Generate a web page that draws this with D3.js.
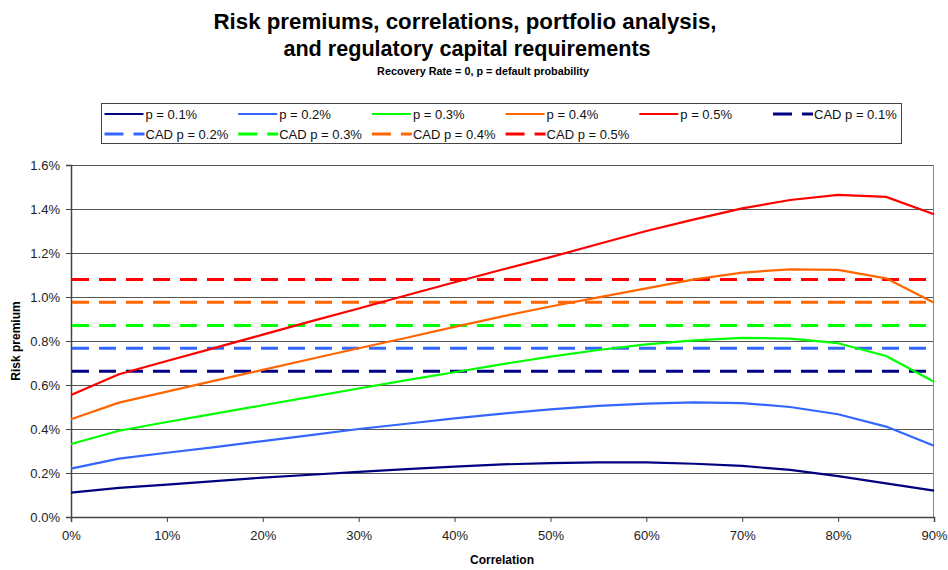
<!DOCTYPE html>
<html>
<head>
<meta charset="utf-8">
<script src="https://cdn.jsdelivr.net/npm/d3@7/dist/d3.min.js"></script>
<style>
  html, body { margin: 0; padding: 0; background: #fff; }
  svg { display: block; font-family: "Liberation Sans", Arial, sans-serif; }
</style>
</head>
<body>
<svg id="chart" width="948" height="570"></svg>
<script>
// ---- Data ----
const correlations = [0, 5, 10, 15, 20, 25, 30, 35, 40, 45, 50, 55, 60, 65, 70, 75, 80, 85, 90];
const p01 = [0.111, 0.132, 0.147, 0.163, 0.179, 0.192, 0.205, 0.218, 0.229, 0.239, 0.245, 0.248, 0.248, 0.242, 0.232, 0.214, 0.186, 0.153, 0.120];
const p02 = [0.220, 0.265, 0.292, 0.318, 0.345, 0.372, 0.400, 0.424, 0.448, 0.470, 0.489, 0.505, 0.515, 0.521, 0.518, 0.500, 0.467, 0.411, 0.324];
const p03 = [0.332, 0.392, 0.432, 0.470, 0.508, 0.546, 0.584, 0.622, 0.658, 0.695, 0.729, 0.759, 0.785, 0.803, 0.814, 0.811, 0.790, 0.732, 0.615];
const p04 = [0.444, 0.520, 0.570, 0.620, 0.669, 0.718, 0.767, 0.815, 0.864, 0.912, 0.957, 0.998, 1.039, 1.080, 1.111, 1.126, 1.123, 1.085, 0.974];
const p05 = [0.555, 0.649, 0.709, 0.769, 0.829, 0.889, 0.948, 1.008, 1.067, 1.125, 1.181, 1.241, 1.300, 1.353, 1.403, 1.441, 1.464, 1.455, 1.376];
const cadValues = [0.662, 0.767, 0.871, 0.976, 1.080];
const seriesNames = ["p = 0.1%", "p = 0.2%", "p = 0.3%", "p = 0.4%", "p = 0.5%"];
const cadNames = ["CAD p = 0.1%", "CAD p = 0.2%", "CAD p = 0.3%", "CAD p = 0.4%", "CAD p = 0.5%"];
const colors = ["#000080", "#3366FF", "#00FF00", "#FF6600", "#FF0000"];
const yTicks = [0, 0.2, 0.4, 0.6, 0.8, 1.0, 1.2, 1.4, 1.6];
const xTicks = [0, 10, 20, 30, 40, 50, 60, 70, 80, 90];

const solidSeries = [p01, p02, p03, p04, p05];

// ---- Layout ----
const svg = d3.select("#chart");
const x = d3.scaleLinear().domain([0, 90]).range([71, 934]);
const y = d3.scaleLinear().domain([0, 1.6]).range([517, 165]);

// Titles
svg.append("text").attr("x", 465).attr("y", 29).attr("text-anchor", "middle")
  .attr("font-size", 22.3).attr("font-weight", "bold").attr("fill", "#000")
  .text("Risk premiums, correlations, portfolio analysis,");
svg.append("text").attr("x", 467).attr("y", 56).attr("text-anchor", "middle")
  .attr("font-size", 21.6).attr("font-weight", "bold").attr("fill", "#000")
  .text("and regulatory capital requirements");
svg.append("text").attr("x", 483).attr("y", 75).attr("text-anchor", "middle")
  .attr("font-size", 10.8).attr("font-weight", "bold").attr("fill", "#000")
  .text("Recovery Rate = 0, p = default probability");

// Gridlines
svg.append("g").selectAll("line").data(yTicks.filter(d => d > 0)).join("line")
  .attr("x1", x(0)).attr("x2", x(90))
  .attr("y1", d => Math.round(y(d)) + 0.5).attr("y2", d => Math.round(y(d)) + 0.5)
  .attr("stroke", "#555").attr("stroke-width", 1);

// Right border
svg.append("line").attr("x1", x(90) - 0.5).attr("x2", x(90) - 0.5)
  .attr("y1", y(1.6)).attr("y2", y(0)).attr("stroke", "#888").attr("stroke-width", 1);

// Axes
const yAxis = d3.axisLeft(y).tickValues(yTicks).tickSize(5).tickPadding(6)
  .tickFormat(d => d.toFixed(1) + "%");
const gy = svg.append("g").attr("transform", `translate(${x(0)},0)`).call(yAxis);
gy.select(".domain").attr("stroke", "#444").attr("stroke-width", 1.5);
gy.selectAll(".tick line").attr("stroke", "#444");
gy.selectAll(".tick text").attr("font-size", 13).attr("fill", "#222")
  .attr("font-family", "Liberation Sans, Arial, sans-serif");

const xAxis = d3.axisBottom(x).tickValues(xTicks).tickSize(5).tickPadding(9)
  .tickFormat(d => d + "%");
const gx = svg.append("g").attr("transform", `translate(0,${y(0)})`).call(xAxis);
gx.select(".domain").attr("stroke", "#444").attr("stroke-width", 1.5);
gx.selectAll(".tick line").attr("stroke", "#444");
gx.selectAll(".tick text").attr("font-size", 13).attr("fill", "#222")
  .attr("font-family", "Liberation Sans, Arial, sans-serif");

// Axis titles
svg.append("text").attr("x", 502).attr("y", 564).attr("text-anchor", "middle")
  .attr("font-size", 12).attr("font-weight", "bold").text("Correlation");
svg.append("text").attr("transform", "translate(20,341) rotate(-90)")
  .attr("text-anchor", "middle").attr("font-size", 12).attr("font-weight", "bold")
  .text("Risk premium");

// CAD dashed lines
svg.append("g").selectAll("line").data(cadValues).join("line")
  .attr("x1", x(0) + 1).attr("x2", x(90))
  .attr("y1", d => y(d)).attr("y2", d => y(d))
  .attr("stroke", (d, i) => colors[i]).attr("stroke-width", 3)
  .attr("stroke-dasharray", "17,10");

// Solid series
const line = d3.line().x((d, i) => x(correlations[i])).y(d => y(d));
svg.append("g").selectAll("path").data(solidSeries).join("path")
  .attr("d", d => line(d)).attr("fill", "none")
  .attr("stroke", (d, i) => colors[i]).attr("stroke-width", 2.2)
  .attr("stroke-linejoin", "round");

// Legend
const legend = svg.append("g");
legend.append("rect").attr("x", 101.5).attr("y", 103.5).attr("width", 800).attr("height", 40)
  .attr("fill", "#fff").attr("stroke", "#444").attr("stroke-width", 1);
const items = [];
seriesNames.forEach((n, i) => items.push({ name: n, color: colors[i], dashed: false }));
cadNames.forEach((n, i) => items.push({ name: n, color: colors[i], dashed: true }));
const colW = 133.7, rowH = 20;
items.forEach((it, k) => {
  const col = k % 6, row = Math.floor(k / 6);
  const lx = 104.5 + col * colW, ly = 114 + row * rowH;
  const g = legend.append("g");
  if (it.dashed) {
    g.append("line").attr("x1", lx).attr("x2", lx + 19).attr("y1", ly).attr("y2", ly)
      .attr("stroke", it.color).attr("stroke-width", 3);
    g.append("line").attr("x1", lx + 29).attr("x2", lx + 40).attr("y1", ly).attr("y2", ly)
      .attr("stroke", it.color).attr("stroke-width", 3);
  } else {
    g.append("line").attr("x1", lx).attr("x2", lx + 39).attr("y1", ly).attr("y2", ly)
      .attr("stroke", it.color).attr("stroke-width", 2.2);
  }
  g.append("text").attr("x", lx + 41).attr("y", ly + 4.5).attr("font-size", 13)
    .attr("fill", "#111").text(it.name);
});
</script>
</body>
</html>
